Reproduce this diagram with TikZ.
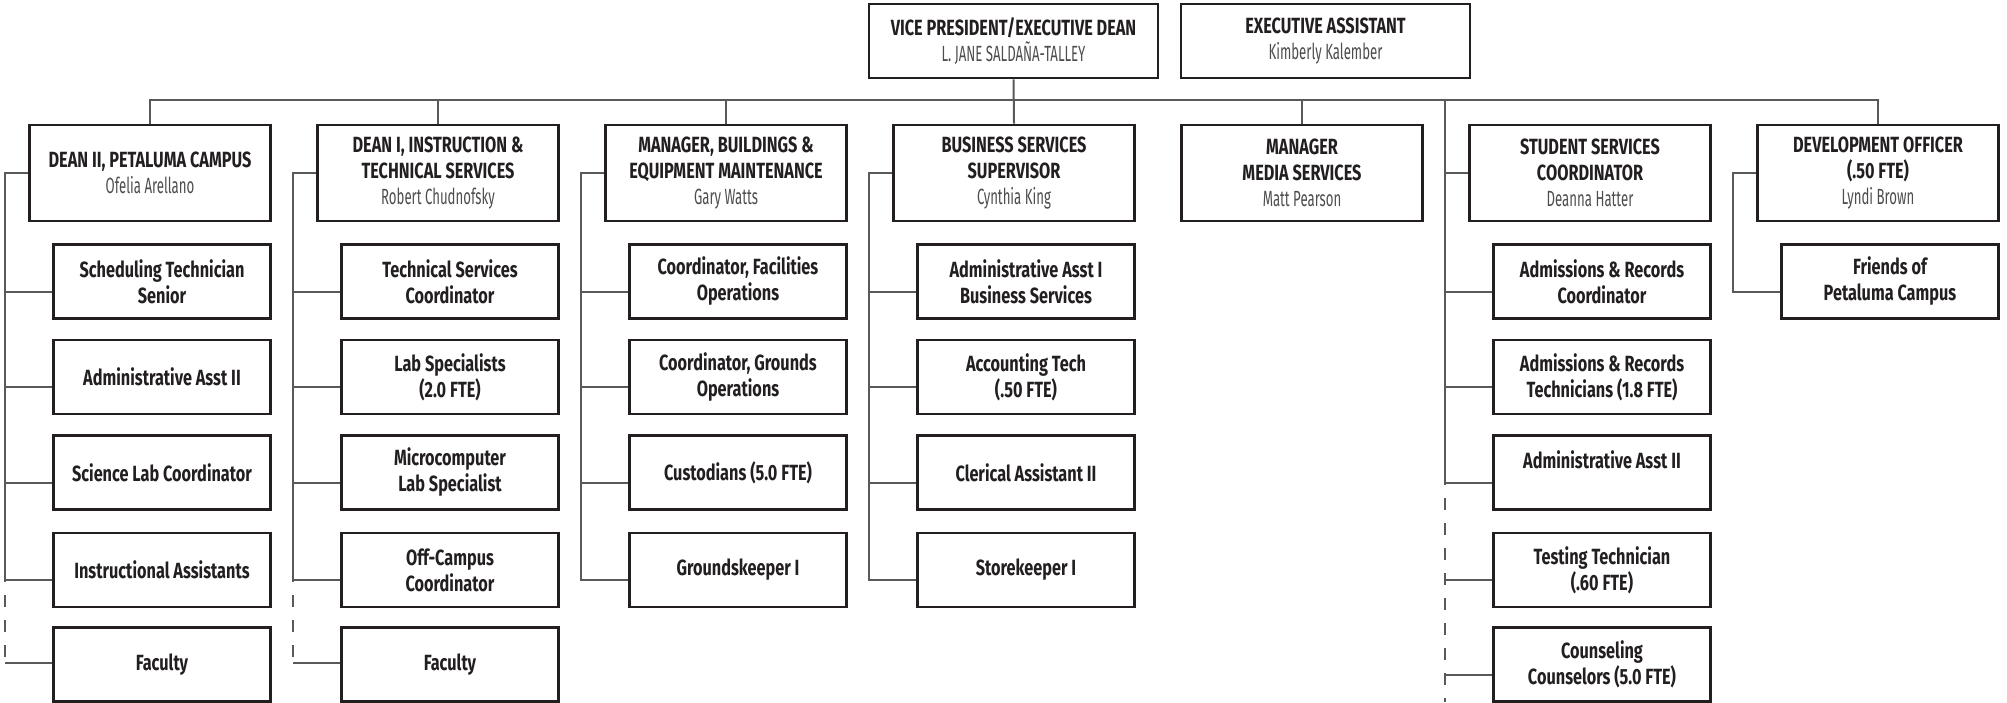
\documentclass[tikz,border=0pt]{standalone}
\usepackage{fontspec}
\setmainfont{Fira Sans}
\newfontfamily\titleface{Fira Sans}[FakeStretch=0.74]
\newfontfamily\nameface{Fira Sans}[FakeStretch=0.6]
\usepackage{tikz}
\usetikzlibrary{positioning}
\definecolor{boxline}{HTML}{231F20}
\definecolor{linegray}{HTML}{58595B}
\definecolor{namegray}{HTML}{4D4D4F}
\newcommand{\postwidth}{120.5pt}
\newcommand{\postheight}{48pt}
\newcommand{\subwidth}{108.5pt}
\newcommand{\subheight}{37pt}
\newcommand{\railgap}{11.5pt}
\newcommand{\drop}{-5pt}
\newcommand{\who}[1]{{\nameface\mdseries\fontsize{11}{13}\selectfont\color{namegray}#1}}
\tikzstyle{postbox}=[draw=boxline, line width=1.4pt, inner sep=0, minimum width=\postwidth, minimum height=\postheight,
                     align=center, text=boxline, font=\titleface\bfseries\fontsize{11}{13}\selectfont]
\tikzstyle{subbox}=[postbox, minimum width=\subwidth, minimum height=\subheight]
\tikzstyle{reportline}=[draw=linegray, line width=1pt]
\tikzstyle{vacantline}=[reportline, dash pattern=on 6pt off 6.5pt]

\begin{document}
\begin{tikzpicture}[x=0.5pt, y=-0.5pt]
    \useasboundingbox (0,0) rectangle (2007,702);
    % top of the chart
    \node[postbox, minimum width=144.5pt, minimum height=37pt] (vp) at (1013.5, 41) {VICE PRESIDENT/EXECUTIVE DEAN\\\who{L. JANE SALDAÑA-TALLEY}};
    \node[postbox, minimum width=144.5pt, minimum height=37pt] (exec) at (1325.5, 41) {EXECUTIVE ASSISTANT\\\who{Kimberly Kalember}};

    % second level
    \node[postbox] (deanII) at (150, 173) {DEAN II, PETALUMA CAMPUS\\\who{Ofelia Arellano}};
    \node[postbox] (deanI) at (438, 173) {DEAN I, INSTRUCTION \&\\TECHNICAL SERVICES\\\who{Robert Chudnofsky}};
    \node[postbox] (bldg) at (726, 173) {MANAGER, BUILDINGS \&\\EQUIPMENT MAINTENANCE\\\who{Gary Watts}};
    \node[postbox] (business) at (1014, 173) {BUSINESS SERVICES\\SUPERVISOR\\\who{Cynthia King}};
    \node[postbox] (media) at (1302, 173) {MANAGER\\MEDIA SERVICES\\\who{Matt Pearson}};
    \node[postbox] (student) at (1590, 173) {STUDENT SERVICES\\COORDINATOR\\\who{Deanna Hatter}};
    \node[postbox] (devofficer) at (1878, 173) {DEVELOPMENT OFFICER\\(.50 FTE)\\\who{Lyndi Brown}};

    % Petaluma campus
    \node[subbox] (schedA) at (162, 281.5) {Scheduling Technician\\Senior};
    \node[subbox] (adminA) at (162, 377) {Administrative Asst II};
    \node[subbox] (scienceA) at (162, 472.5) {Science Lab Coordinator};
    \node[subbox] (instrA) at (162, 570) {Instructional Assistants};
    \node[subbox] (facultyA) at (162, 664.5) {Faculty};

    % instruction & technical services
    \node[subbox] (techB) at (450, 281.5) {Technical Services\\Coordinator};
    \node[subbox] (labB) at (450, 377) {Lab Specialists\\(2.0 FTE)};
    \node[subbox] (microB) at (450, 472.5) {Microcomputer\\Lab Specialist};
    \node[subbox] (offcampusB) at (450, 570) {Off-Campus\\Coordinator};
    \node[subbox] (facultyB) at (450, 664.5) {Faculty};

    % buildings & equipment
    \node[subbox] (facilC) at (738, 281.5) {Coordinator, Facilities\\Operations};
    \node[subbox] (groundsC) at (738, 377) {Coordinator, Grounds\\Operations};
    \node[subbox] (custodC) at (738, 472.5) {Custodians (5.0 FTE)};
    \node[subbox] (keeperC) at (738, 570) {Groundskeeper I};

    % business services
    \node[subbox] (adminD) at (1026, 281.5) {Administrative Asst I\\Business Services};
    \node[subbox] (acctD) at (1026, 377) {Accounting Tech\\(.50 FTE)};
    \node[subbox] (clericD) at (1026, 472.5) {Clerical Assistant II};
    \node[subbox] (storeD) at (1026, 570) {Storekeeper I};

    % student services
    \node[subbox] (arcoordE) at (1602, 281.5) {Admissions \& Records\\Coordinator};
    \node[subbox] (artechE) at (1602, 377) {Admissions \& Records\\Technicians (1.8 FTE)};
    \node[subbox] (adminE) at (1602, 472.5) {Administrative Asst II\\~};
    \node[subbox] (testingE) at (1602, 570) {Testing Technician\\(.60 FTE)};
    \node[subbox] (counselE) at (1602, 664.5) {Counseling\\Counselors (5.0 FTE)};

    % development
    \node[subbox] (friendsF) at (1890, 281.5) {Friends of\\Petaluma Campus};

    \coordinate (pagebottom) at (0, 702);

    % the bus
    \draw[reportline] (deanII.north) -- ++(0,-24) coordinate (bus) -| (devofficer.north);
    \draw[reportline] (deanI.north) -- (deanI.north |- bus);
    \draw[reportline] (bldg.north) -- (bldg.north |- bus);
    \draw[reportline] (media.north) -- (media.north |- bus);
    \draw[reportline] (vp.south) -- (business.north);

    % rails
    \coordinate (railA) at ([xshift=-\railgap]deanII.west);
    \coordinate (railB) at ([xshift=-\railgap]deanI.west);
    \coordinate (railC) at ([xshift=-\railgap]bldg.west);
    \coordinate (railD) at ([xshift=-\railgap]business.west);
    \coordinate (railE) at ([xshift=-\railgap]student.west);
    \coordinate (railF) at ([xshift=-\railgap]devofficer.west);

    \draw[reportline] (deanII.west) -- (railA) |- ([yshift=\drop]instrA.west);
    \draw[reportline] (railA) |- ([yshift=\drop]schedA.west);
    \draw[reportline] (railA) |- ([yshift=\drop]adminA.west);
    \draw[reportline] (railA) |- ([yshift=\drop]scienceA.west);
    \draw[vacantline] (railA |- instrA.west) -- ([yshift=1pt]railA |- facultyA.west);
    \draw[reportline] ([yshift=1pt]facultyA.west) -- ++(-47,0);

    \draw[reportline] (deanI.west) -- (railB) |- ([yshift=\drop]offcampusB.west);
    \draw[reportline] (railB) |- ([yshift=\drop]techB.west);
    \draw[reportline] (railB) |- ([yshift=\drop]labB.west);
    \draw[reportline] (railB) |- ([yshift=\drop]microB.west);
    \draw[vacantline] (railB |- offcampusB.west) -- ([yshift=1pt]railB |- facultyB.west);
    \draw[reportline] ([yshift=1pt]facultyB.west) -- ++(-47,0);

    \draw[reportline] (bldg.west) -- (railC) |- ([yshift=\drop]keeperC.west);
    \draw[reportline] (railC) |- ([yshift=\drop]facilC.west);
    \draw[reportline] (railC) |- ([yshift=\drop]groundsC.west);
    \draw[reportline] (railC) |- ([yshift=\drop]custodC.west);

    \draw[reportline] (business.west) -- (railD) |- ([yshift=\drop]storeD.west);
    \draw[reportline] (railD) |- ([yshift=\drop]adminD.west);
    \draw[reportline] (railD) |- ([yshift=\drop]acctD.west);
    \draw[reportline] (railD) |- ([yshift=\drop]clericD.west);

    \draw[reportline] (railE |- bus) -- (railE) -- (student.west);
    \draw[reportline] (railE) |- ([yshift=\drop]adminE.west);
    \draw[reportline] (railE) |- ([yshift=\drop]arcoordE.west);
    \draw[reportline] (railE) |- ([yshift=\drop]artechE.west);
    \draw[vacantline] (railE |- adminE.west) -- (railE |- pagebottom);
    \draw[reportline] ([yshift=\drop]testingE.west) -- ++(-47,0);
    \draw[reportline] ([yshift=\drop]counselE.west) -- ++(-47,0);

    \draw[reportline] (devofficer.west) -- (railF) |- ([yshift=\drop]friendsF.west);
\end{tikzpicture}
\end{document}
